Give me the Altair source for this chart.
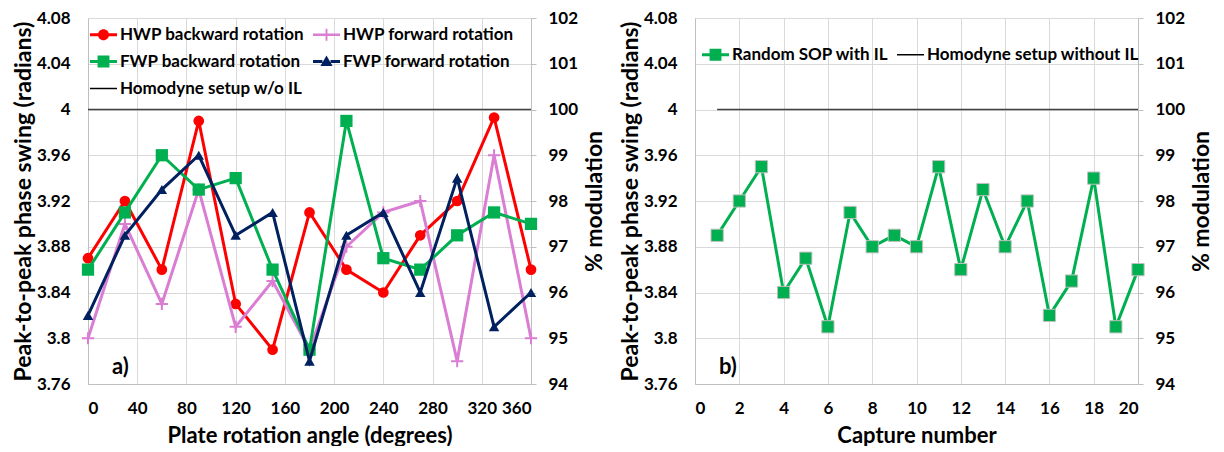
import altair as alt
import pandas as pd

# ---------------- data ----------------
ANGLES = [0, 30, 60, 90, 120, 150, 180, 210, 240, 270, 300, 330, 360]
HWP_BACKWARD = [3.87, 3.92, 3.86, 3.99, 3.83, 3.79, 3.91, 3.86, 3.84, 3.89, 3.92, 3.993, 3.86]
HWP_FORWARD = [3.80, 3.90, 3.83, 3.93, 3.81, 3.85, 3.79, 3.88, 3.91, 3.92, 3.78, 3.96, 3.80]
FWP_BACKWARD = [3.86, 3.91, 3.96, 3.93, 3.94, 3.86, 3.79, 3.99, 3.87, 3.86, 3.89, 3.91, 3.90]
FWP_FORWARD = [3.82, 3.89, 3.93, 3.96, 3.89, 3.91, 3.78, 3.89, 3.91, 3.84, 3.94, 3.81, 3.84]

CAPTURES = list(range(1, 21))
RANDOM_SOP = [3.89, 3.92, 3.95, 3.84, 3.87, 3.81, 3.91, 3.88, 3.89, 3.88,
              3.95, 3.86, 3.93, 3.88, 3.92, 3.82, 3.85, 3.94, 3.81, 3.86]

HOMODYNE_LEVEL = 4.0

# legend entries (listed column by column: col 1 then col 2)
LEFT_NAMES = ["HWP backward rotation", "FWP backward rotation", "Homodyne setup w/o IL",
              "HWP forward rotation", "FWP forward rotation"]
RIGHT_NAMES = ["Random SOP with IL", "Homodyne setup without IL"]

Y_TICKS = [3.76, 3.80, 3.84, 3.88, 3.92, 3.96, 4.00, 4.04, 4.08]
PCT_TICKS = [94, 95, 96, 97, 98, 99, 100, 101, 102]
ANGLE_TICKS = [0, 40, 80, 120, 160, 200, 240, 280, 320, 360]
CAPTURE_TICKS = [0, 2, 4, 6, 8, 10, 12, 14, 16, 18, 20]

X_TITLE_LEFT = "Plate rotation angle (degrees)"
X_TITLE_RIGHT = "Capture number"
Y_TITLE = "Peak-to-peak phase swing (radians)"
Y2_TITLE = "% modulation"

# ---------------- styling ----------------
FONT = "Lato"
RED = "#FF0000"
PINK = "#DA7ED4"
GREEN = "#00B050"
NAVY = "#002060"
BLACK = "#404040"
W, H = 443, 366

# legend symbols: line + marker (unit square -1..1)
SEG = "M-1,-0.11H-0.3V0.11H-1Z M0.3,-0.11H1V0.11H0.3Z "
P_CIRCLE = SEG + "M0.41,0A0.41,0.41 0 1 1 -0.41,0A0.41,0.41 0 1 1 0.41,0Z"
P_PLUS = "M-1,-0.09H1V0.09H-1Z M-0.07,-0.45H0.07V0.45H-0.07Z"
P_SQUARE = SEG + "M-0.44,-0.44H0.44V0.44H-0.44Z"
P_TRI = SEG + "M0,-0.45L0.45,0.34H-0.45Z"
P_THIN = "M-1,-0.055H1V0.055H-1Z"


def y_axis():
    return alt.Axis(orient="left", values=Y_TICKS, format=".3~g", title=Y_TITLE,
                    ticks=False, tickSize=0, labelPadding=18, minExtent=52, maxExtent=52,
                    titlePadding=1, titleFontSize=23, domain=True)


def pct_axis():
    return alt.Axis(orient="right", values=PCT_TICKS, title=Y2_TITLE, grid=False,
                    ticks=True, tickSize=5, tickColor="#BFBFBF", labelPadding=12,
                    minExtent=44, maxExtent=44, titleFontSize=23,
                    titleAngle=270, titleBaseline="top", titlePadding=8, domain=True)


def panel(df_series, xfield, xdomain, xticks, xtitle, homodyne_x, names, paths, colors,
          legend_x, legend_y, tag, tag_x, tag_y, field):
    x_enc = alt.X(f"{xfield}:Q", scale=alt.Scale(domain=xdomain, nice=False),
                  axis=alt.Axis(values=xticks, title=xtitle, ticks=False, tickSize=0,
                                labelPadding=16, titlePadding=9, grid=True))
    y_enc = alt.Y("phase:Q", scale=alt.Scale(domain=[3.76, 4.08], nice=False, zero=False),
                  axis=y_axis())
    layers = []
    hom = pd.DataFrame({xfield: homodyne_x, "phase": [HOMODYNE_LEVEL] * len(homodyne_x)})
    layers.append(alt.Chart(hom).mark_line(color=BLACK, strokeWidth=1.5).encode(x=x_enc, y=y_enc))
    for xs, ys, color, shape, filled, size, stroke in df_series:
        d = pd.DataFrame({xfield: xs, "phase": ys})
        layers.append(alt.Chart(d).mark_line(color=color, strokeWidth=3).encode(x=x_enc, y=y_enc))
        if filled:
            pm = alt.Chart(d).mark_point(shape=shape, filled=True, fill=color, size=size,
                                         opacity=1, stroke=stroke or color,
                                         strokeWidth=1 if stroke else 0)
        else:
            pm = alt.Chart(d).mark_point(shape=shape, filled=False, stroke=color, size=size,
                                         opacity=1, strokeWidth=2)
        layers.append(pm.encode(x=x_enc, y=y_enc))
    # panel tag
    tagdf = pd.DataFrame({xfield: [tag_x], "phase": [tag_y], "t": [tag]})
    layers.append(alt.Chart(tagdf).mark_text(align="left", baseline="alphabetic", font=FONT,
                                             fontSize=22, fontWeight="bold", color="#000")
                  .encode(x=x_enc, y=y_enc, text="t:N"))
    # legend layer (no marks drawn)
    leg = alt.Legend(title=None, orient="none", legendX=legend_x, legendY=legend_y,
                     columns=2, columnPadding=8, rowPadding=5, symbolSize=729,
                     symbolStrokeWidth=0, symbolOpacity=1, labelFont=FONT,
                     labelFontSize=17, labelFontWeight="bold", labelColor="#000",
                     labelOffset=3, padding=0, offset=0, labelLimit=400)
    ldf = pd.DataFrame({field: names})
    layers.append(alt.Chart(ldf).transform_filter("false").mark_point(filled=True, opacity=1)
                  .encode(fill=alt.Fill(f"{field}:N", scale=alt.Scale(domain=names, range=colors), legend=leg, sort=names),
                          shape=alt.Shape(f"{field}:N", scale=alt.Scale(domain=names, range=paths), legend=leg, sort=names)))
    inner = alt.layer(*layers)
    pct = (alt.Chart(pd.DataFrame({xfield: homodyne_x, "phase": [HOMODYNE_LEVEL] * len(homodyne_x)}))
           .transform_calculate(pct="datum.phase*25")
           .mark_point(opacity=0)
           .encode(x=x_enc, y=alt.Y("pct:Q", scale=alt.Scale(domain=[94, 102], nice=False, zero=False),
                                     axis=pct_axis())))
    return alt.layer(inner, pct).resolve_scale(y="independent").properties(width=W, height=H)


left = panel(
    [
        (ANGLES, HWP_BACKWARD, RED, "circle", True, 115, None),
        (ANGLES, HWP_FORWARD, PINK, "M-1,0H1M0,-1V1", False, 150, None),
        (ANGLES, FWP_BACKWARD, GREEN, "square", True, 150, None),
        (ANGLES, FWP_FORWARD, NAVY, "triangle-up", True, 110, None),
    ],
    "angle", [0, 360], ANGLE_TICKS, X_TITLE_LEFT, ANGLES, LEFT_NAMES,
    [P_CIRCLE, P_SQUARE, P_THIN, P_PLUS, P_TRI], [RED, GREEN, "#000000", PINK, NAVY],
    2, 3, "a)", 19.5, 3.769, "series_a",
)

right = panel(
    [
        (CAPTURES, RANDOM_SOP, GREEN, "square", True, 150, "#BFBFBF"),
    ],
    "capture", [0, 20], CAPTURE_TICKS, X_TITLE_RIGHT, CAPTURES, RIGHT_NAMES,
    [P_SQUARE, P_THIN], [GREEN, "#000000"],
    7, 23, "b)", 1.08, 3.769, "series_b",
)

chart = (
    alt.hconcat(left, right, spacing=13)
    .resolve_scale(fill="independent", shape="independent", x="independent")
    .properties(padding={"left": 4, "top": 1, "right": 0, "bottom": 0})
    .configure_axis(labelFont=FONT, labelFontSize=17, labelFontWeight="bold", labelColor="#000",
                    titleFont=FONT, titleFontSize=22, titleFontWeight="bold", titleColor="#000",
                    gridColor="#D9D9D9", gridWidth=1, domainColor="#BFBFBF", domainWidth=1)
    .configure_view(stroke=None)
)

chart.save("out.html", embed_options={"renderer": "svg", "actions": False})
